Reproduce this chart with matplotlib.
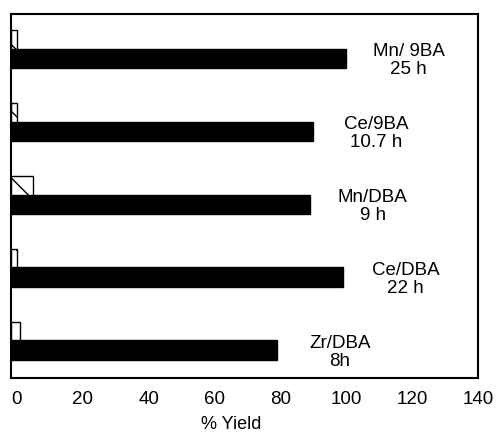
import matplotlib
matplotlib.use("Agg")
import matplotlib.pyplot as plt
import numpy as np

plt.rcParams['font.family'] = ['Liberation Sans', 'DejaVu Sans']

# data, top group first
labels = ["Mn/ 9BA\n25 h", "Ce/9BA\n10.7 h", "Mn/DBA\n9 h", "Ce/DBA\n22 h", "Zr/DBA\n8h"]
main_yield = [100, 90, 89, 99, 79]
side_yield = [0, 0, 5, 0, 1]
xticks = [0, 20, 40, 60, 80, 100, 120, 140]

XMIN, XMAX = -1.8, 139.6

fig = plt.figure(figsize=(5.03, 4.33), dpi=100)
ax = fig.add_axes([11/503, 1 - 378/433, (478 - 11)/503, (378 - 14)/433])

pos = np.arange(len(labels))[::-1]
h_main = 0.27
h_side = 0.25

# bars start at the left frame like in the original scan
ax.barh(pos, np.array(main_yield) - XMIN, left=XMIN, height=h_main,
        color='black', edgecolor='black')
ax.barh(pos + h_main/2 + h_side/2, np.array(side_yield) - XMIN, left=XMIN,
        height=h_side, color='white', edgecolor='black', hatch='\\', linewidth=1)

for p, v, lab in zip(pos, main_yield, labels):
    ax.text(v + 19, p - 0.03, lab, ha='center', va='center',
            fontsize=13.5, linespacing=1.12)

ax.set_xlim(XMIN, XMAX)
ax.set_ylim(-0.38, 4.61)
ax.set_xticks(xticks)
ax.set_xticklabels([str(t) for t in xticks], fontsize=13.5)
ax.set_yticks([])
ax.tick_params(axis='x', length=0, pad=9)
for s in ax.spines.values():
    s.set_linewidth(1.5)

ax.set_xlabel("% Yield", fontsize=13)
ax.xaxis.set_label_coords(0.471, -0.105)

fig.savefig("out.png", dpi=100)
